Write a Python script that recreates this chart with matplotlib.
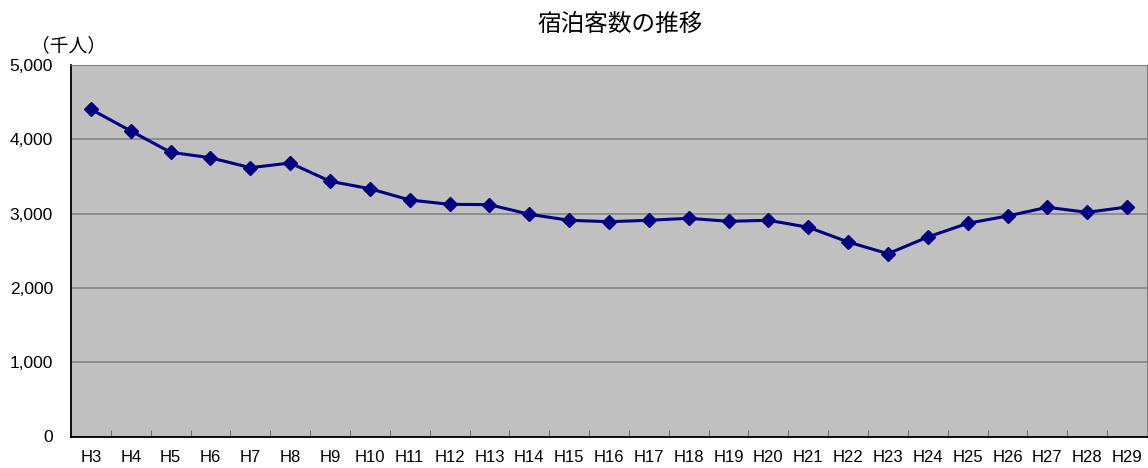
import numpy as np
import matplotlib.pyplot as plt
from matplotlib.ticker import FuncFormatter, FixedLocator

plt.rcParams['font.family'] = ['Noto Sans CJK JP', 'DejaVu Sans']

# 年度ラベル
years = ["H3", "H4", "H5", "H6", "H7", "H8", "H9", "H10", "H11", "H12",
         "H13", "H14", "H15", "H16", "H17", "H18", "H19", "H20", "H21",
         "H22", "H23", "H24", "H25", "H26", "H27", "H28", "H29"]
# 宿泊客数（千人）
guests = [4404, 4112, 3825, 3752, 3618, 3681, 3435, 3335, 3183, 3125,
          3120, 2991, 2910, 2891, 2910, 2937, 2896, 2910, 2816,
          2618, 2460, 2685, 2869, 2968, 3085, 3017, 3089]

fig = plt.figure(figsize=(11.48, 4.68), dpi=100)
ax = fig.add_axes([71 / 1148, 31.5 / 468, 1076 / 1148, 371.5 / 468])

x = np.arange(len(years))
ax.set_facecolor("#C0C0C0")
ax.plot(x, guests, color="#000080", lw=2.2, marker="D", markersize=7.5,
        zorder=3)

ax.set_xlim(-0.5, len(years) - 0.5)
ax.set_ylim(0, 5000)
ax.set_yticks(range(0, 5001, 1000))
ax.yaxis.set_major_formatter(FuncFormatter(lambda v, p: f"{int(v):,}"))
ax.grid(axis="y", color="#808080", lw=1.1, zorder=1)

# x: category labels centered, ticks on the boundaries
ax.set_xticks(x)
ax.set_xticklabels(years)
ax.xaxis.set_minor_locator(FixedLocator(np.arange(0.5, len(years) - 0.5, 1)))
ax.tick_params(axis="x", which="major", length=0, pad=10)
ax.tick_params(axis="x", which="minor", direction="in", length=5,
               color="#606060")
ax.tick_params(axis="y", length=0, pad=13)

for lab in ax.get_xticklabels():
    lab.set_family(['Liberation Sans'])
    lab.set_fontsize(12)
for lab in ax.get_yticklabels():
    lab.set_family(['Liberation Sans'])
    lab.set_fontsize(12.5)

ax.spines["left"].set_color("black")
ax.spines["bottom"].set_color("black")
ax.spines["left"].set_linewidth(1.3)
ax.spines["bottom"].set_linewidth(1.3)
ax.spines["top"].set_color("#808080")
ax.spines["right"].set_color("#808080")

fig.text(620 / 1148, 1 - 24 / 468, "宿泊客数の推移", ha="center", va="center",
         fontsize=17)
fig.text(69 / 1148, 1 - 46 / 468, "（千人）", ha="center", va="center",
         fontsize=13.5)

fig.savefig("out.png", dpi=100)
